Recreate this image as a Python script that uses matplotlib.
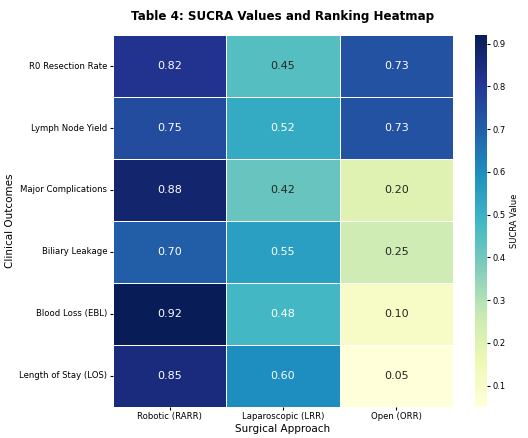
import pandas as pd
import matplotlib
matplotlib.use('Agg')
import matplotlib.pyplot as plt
import seaborn as sns

outcomes = ['R0 Resection Rate', 'Lymph Node Yield', 'Major Complications',
            'Biliary Leakage', 'Blood Loss (EBL)', 'Length of Stay (LOS)']
approaches = ['Robotic (RARR)', 'Laparoscopic (LRR)', 'Open (ORR)']
robotic = [0.82, 0.75, 0.88, 0.70, 0.92, 0.85]
laparoscopic = [0.45, 0.52, 0.42, 0.55, 0.48, 0.60]
open_surgery = [0.73, 0.73, 0.20, 0.25, 0.10, 0.05]

sucra = pd.DataFrame({approaches[0]: robotic,
                      approaches[1]: laparoscopic,
                      approaches[2]: open_surgery}, index=outcomes)

fig = plt.figure(figsize=(5.28, 4.38), dpi=100)
ax = fig.add_axes([0.214, 0.071, 0.644, 0.849])
cax = fig.add_axes([0.90, 0.071, 0.023, 0.849])

sns.heatmap(sucra, annot=True, fmt='.2f', cmap='YlGnBu', linewidths=0.5,
            linecolor='white', ax=ax, cbar_ax=cax,
            annot_kws={'size': 8},
            cbar_kws={'label': 'SUCRA Value'})

ax.set_title('Table 4: SUCRA Values and Ranking Heatmap',
             fontsize=8.6, fontweight='bold', pad=11)
ax.set_xlabel('Surgical Approach', fontsize=7.5, labelpad=2)
ax.set_ylabel('Clinical Outcomes', fontsize=7.5, labelpad=3)
ax.tick_params(labelsize=6.1, length=2, pad=2)
plt.setp(ax.get_yticklabels(), rotation=0)
plt.setp(ax.get_xticklabels(), rotation=0)
cax.tick_params(labelsize=6, length=2, pad=2)
cax.yaxis.label.set_size(6)
cax.yaxis.labelpad = 3

fig.savefig('out.png', dpi=100)
